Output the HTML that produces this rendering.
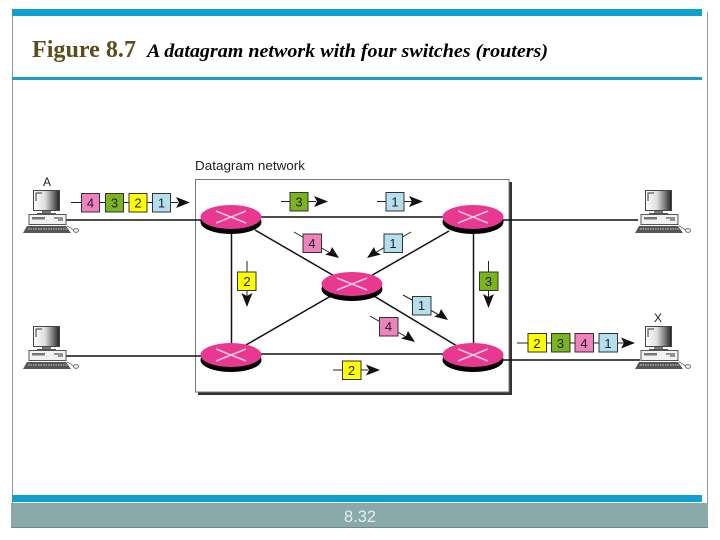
<!DOCTYPE html>
<html>
<head>
<meta charset="utf-8">
<style>
html,body{margin:0;padding:0;background:#fff;width:720px;height:540px;overflow:hidden}
svg{display:block}
text{font-family:"Liberation Sans",sans-serif}
.p{font-size:13px;fill:#222;text-anchor:middle}
</style>
</head>
<body>
<svg width="720" height="540" viewBox="0 0 720 540" xmlns="http://www.w3.org/2000/svg">
<defs>
<linearGradient id="mon" x1="0" x2="1" y1="0" y2="0"><stop offset="0" stop-color="#fff"/><stop offset="0.45" stop-color="#ddd"/><stop offset="1" stop-color="#222"/></linearGradient>
<g id="pc">
<rect x="33.5" y="190.5" width="26" height="20" fill="url(#mon)" stroke="#444" stroke-width="1"/>
<path d="M36 201V193H42" fill="none" stroke="#333" stroke-width="1"/>
<rect x="42" y="211" width="9" height="2" fill="#777"/>
<rect x="37" y="213" width="19" height="1.500" fill="#555"/>
<rect x="29" y="214.500" width="37" height="10" fill="#f2f2f2" stroke="#555" stroke-width="1"/>
<rect x="32" y="217" width="13" height="2.500" fill="#777"/>
<path d="M54 218H63M58 220H63" stroke="#333" stroke-width="1"/>
<path d="M27 226H66L71 233H23Z" fill="#555"/>
<path d="M28 229H67" stroke="#ccc" stroke-width="1" stroke-dasharray="1.500 1"/>
<path d="M67 226C72 228 73 231 76 231" fill="none" stroke="#666" stroke-width="0.8"/>
<ellipse cx="76" cy="230.500" rx="2.500" ry="1.800" fill="#fff" stroke="#555" stroke-width="0.8"/>
</g>
<g id="rt">
<ellipse cx="0" cy="5" rx="30.500" ry="12" fill="#000"/>
<ellipse cx="0" cy="0" rx="30.500" ry="12" fill="#e8388f"/>
<path d="M-15 -6L15 6M15 -6L-15 6" stroke="#f8c8de" stroke-width="1.500"/>
</g>
</defs>

<!-- frame -->
<rect x="12" y="9" width="1" height="494" fill="#8a9a9e"/>
<rect x="707" y="12" width="1" height="491" fill="#9a9a9a"/>
<rect x="12" y="9" width="690" height="7" fill="#0ea1cf"/>
<rect x="12" y="77" width="690" height="3" fill="#1f9dc4"/>
<rect x="12" y="495" width="690" height="7" fill="#0ea1cf"/>
<rect x="11" y="503" width="697" height="25" fill="#8aa9a9"/>
<rect x="11" y="527" width="697" height="1" fill="#6f8888"/>

<!-- title -->
<text x="32" y="57" style="font-family:'Liberation Serif',serif;font-weight:bold;font-size:24px" fill="#5f4c1c" textLength="104" lengthAdjust="spacingAndGlyphs">Figure 8.7</text>
<text x="147" y="57" style="font-family:'Liberation Serif',serif;font-weight:bold;font-style:italic;font-size:18.500px" fill="#000" textLength="401" lengthAdjust="spacingAndGlyphs">A datagram network with four switches (routers)</text>
<text x="344" y="522" style="font-size:17px" fill="#e4eeee" textLength="32" lengthAdjust="spacingAndGlyphs">8.32</text>

<!-- network box -->
<rect x="198" y="182" width="314" height="213" fill="#333"/>
<rect x="195.500" y="179.500" width="313.500" height="212.500" fill="#fff" stroke="#777" stroke-width="1"/>
<text x="195" y="170" style="font-size:12.500px" fill="#222" textLength="110" lengthAdjust="spacingAndGlyphs">Datagram network</text>
<text x="47" y="186" style="font-size:12px" fill="#222" text-anchor="middle">A</text>
<text x="658" y="322" style="font-size:12px" fill="#222" text-anchor="middle">X</text>

<!-- links -->
<g stroke="#111" fill="none" stroke-width="1.500">
<path d="M66 220H205"/>
<path d="M66 356H205"/>
<path d="M255 217H450"/>
<path d="M255 354H450"/>
<path d="M500 220H638"/>
<path d="M500 360H640"/>
<path d="M231.500 228V345"/>
<path d="M473.500 228V345"/>
<path d="M255 230L336 277"/>
<path d="M246 345L336 293"/>
<path d="M449 231L369 277"/>
<path d="M369 293L457 346"/>
</g>

<!-- routers -->
<use href="#rt" x="231" y="217"/>
<use href="#rt" x="473" y="217"/>
<use href="#rt" x="352" y="284"/>
<use href="#rt" x="231" y="355"/>
<use href="#rt" x="473" y="355"/>

<!-- computers -->
<use href="#pc"/>
<use href="#pc" y="136"/>
<use href="#pc" x="612"/>
<use href="#pc" x="612" y="136"/>

<!-- packet stems -->
<g stroke="#222" fill="none" stroke-width="1">
<path d="M71 202.500H178"/>
<path d="M281 201.500H316"/>
<path d="M377 201.500H412"/>
<path d="M517 343H624"/>
<path d="M333 370H368"/>
<path d="M247 261V298"/>
<path d="M488.500 261V298"/>
<path d="M294 232L332 254"/>
<path d="M411 232L373 254"/>
<path d="M403 295L441 316"/>
<path d="M370 316L408 338"/>
</g>
<!-- arrowheads -->
<g fill="#111">
<path d="M190 202.500L176 197L179 202.500L176 208Z"/>
<path d="M328 201.500L314 196L317 201.500L314 207Z"/>
<path d="M423 201.500L409 196L412 201.500L409 207Z"/>
<path d="M635 343L621 337.500L624 343L621 348.500Z"/>
<path d="M380 370L366 364.500L369 370L366 375.500Z"/>
<path d="M247 307L241.500 293L247 296L252.500 293Z"/>
<path d="M488.500 308L483 294L488.500 297L494 294Z"/>
<path d="M339 258L325 254.500L330 252L332 247Z"/>
<path d="M367 258L381 254.500L376 252L374 247Z"/>
<path d="M448 320L434 316.500L439 314L441 309Z"/>
<path d="M415 342L401 338.500L406 336L408 331Z"/>
</g>

<!-- packets -->
<g stroke="#333" stroke-width="1">
<rect x="81.500" y="193.500" width="18" height="18.500" fill="#ee82bd"/>
<rect x="105.500" y="193.500" width="18" height="18.500" fill="#7ab51d"/>
<rect x="129" y="193.500" width="18" height="18.500" fill="#ffff00"/>
<rect x="152.500" y="193.500" width="18" height="18.500" fill="#b5dfee"/>
<rect x="290" y="192.500" width="18" height="18.500" fill="#7ab51d"/>
<rect x="386" y="192.500" width="18" height="18.500" fill="#b5dfee"/>
<rect x="303" y="234" width="18.500" height="18.500" fill="#ee82bd"/>
<rect x="384" y="234" width="18.500" height="18.500" fill="#b5dfee"/>
<rect x="237.500" y="272" width="18.500" height="18.500" fill="#ffff00"/>
<rect x="479.500" y="272" width="18.500" height="18.500" fill="#7ab51d"/>
<rect x="412.500" y="296.500" width="18.500" height="18.500" fill="#b5dfee"/>
<rect x="379.500" y="317.500" width="18.500" height="18.500" fill="#ee82bd"/>
<rect x="342.500" y="361" width="18.500" height="18.500" fill="#ffff00"/>
<rect x="528" y="333.500" width="18.500" height="18.500" fill="#ffff00"/>
<rect x="551.500" y="333.500" width="18.500" height="18.500" fill="#7ab51d"/>
<rect x="575" y="333.500" width="18.500" height="18.500" fill="#ee82bd"/>
<rect x="599" y="333.500" width="18.500" height="18.500" fill="#b5dfee"/>
</g>
<text class="p" x="90.500" y="207.500">4</text>
<text class="p" x="114.500" y="207.500">3</text>
<text class="p" x="138" y="207.500">2</text>
<text class="p" x="161.500" y="207.500">1</text>
<text class="p" x="299" y="206.500">3</text>
<text class="p" x="395" y="206.500">1</text>
<text class="p" x="312" y="248">4</text>
<text class="p" x="393" y="248">1</text>
<text class="p" x="247" y="286">2</text>
<text class="p" x="488.500" y="286">3</text>
<text class="p" x="421.500" y="310">1</text>
<text class="p" x="388.500" y="331">4</text>
<text class="p" x="351.500" y="375">2</text>
<text class="p" x="537" y="348">2</text>
<text class="p" x="560.500" y="348">3</text>
<text class="p" x="584" y="348">4</text>
<text class="p" x="608" y="348">1</text>
</svg>
</body>
</html>
